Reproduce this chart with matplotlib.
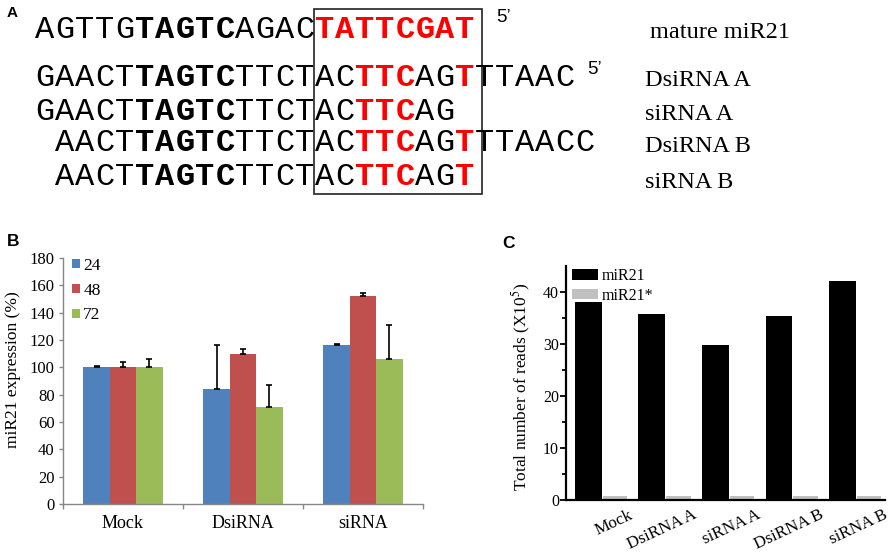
import numpy as np
import matplotlib
matplotlib.use("Agg")
import matplotlib.pyplot as plt
from matplotlib.patches import Rectangle

plt.rcParams['font.family'] = 'Liberation Serif'
plt.rcParams['mathtext.fontset'] = 'stix'

# panel A: sequences, n = normal, b = bold, r = red bold
seqs = ["AGTTGTAGTCAGACTATTCGAT",
        "GAACTTAGTCTTCTACTTCAGTTTAAC",
        "GAACTTAGTCTTCTACTTCAG",
        "AACTTAGTCTTCTACTTCAGTTTAACC",
        "AACTTAGTCTTCTACTTCAGT"]
masks = ["nnnnnbbbbbnnnnrrrrrrrr",
         "nnnnnbbbbbnnnnnnrrrnnrnnnnn",
         "nnnnnbbbbbnnnnnnrrrnn",
         "nnnnbbbbbnnnnnnrrrnnrnnnnnn",
         "nnnnbbbbbnnnnnnrrrnnr"]
seq_names = ["mature miR21", "DsiRNA A", "siRNA A", "DsiRNA B", "siRNA B"]

# panel B
groups = ['Mock', 'DsiRNA', 'siRNA']
hours = ['24', '48', '72']
expr_24 = [100, 84, 116]
expr_48 = [100, 110, 152]
expr_72 = [100, 71, 106]
err_24 = [0.8, 32.6, 1.0]
err_48 = [3.7, 3.7, 2.1]
err_72 = [6.3, 16.0, 25.0]

# panel C
samples = ['Mock', 'DsiRNA A', 'siRNA A', 'DsiRNA B', 'siRNA B']
reads_mir21 = [38.1, 35.8, 29.8, 35.4, 42.1]
reads_star = [0.7, 0.7, 0.7, 0.7, 0.7]

W, H = 892, 552
fig = plt.figure(figsize=(W / 100, H / 100), dpi=100)


def axes_px(l, t, r, b):
    return fig.add_axes([l / W, 1 - b / H, (r - l) / W, (b - t) / H])


# overlay in pixel coords for panel A and letters
ax0 = fig.add_axes([0, 0, 1, 1])
ax0.set_xlim(0, W)
ax0.set_ylim(H, 0)
ax0.axis('off')

row_x = [35, 35, 35, 55, 55]
row_base = [38, 86, 120, 151, 185]
pitch = 20
for seq, mask, x0, yb in zip(seqs, masks, row_x, row_base):
    for i, (ch, st) in enumerate(zip(seq, mask)):
        ax0.text(x0 + (i + 0.5) * pitch, yb, ch, ha='center', va='baseline',
                 family='Liberation Mono', fontsize=23,
                 weight='bold' if st != 'n' else 'normal',
                 color='#FF0000' if st == 'r' else 'black')
ax0.add_patch(Rectangle((314, 9), 168, 185, fill=False, lw=1.2, ec='#222222'))
ax0.text(496, 18, "5\u2019", family='Liberation Sans', fontsize=13.5, va='center')
ax0.text(587, 69, "5\u2019", family='Liberation Sans', fontsize=13.5, va='center')

name_x = [650, 645, 645, 645, 645]
name_y = [32, 80, 115, 147, 182]
for name, nx, ny in zip(seq_names, name_x, name_y):
    ax0.text(nx, ny, name, fontsize=17.5, va='center')

ax0.text(7, 13, 'A', family='Liberation Sans', weight='bold', fontsize=11, va='center')
ax0.text(7, 241, 'B', family='Liberation Sans', weight='bold', fontsize=12.5, va='center')
ax0.text(502, 244, 'C', family='Liberation Sans', weight='bold', fontsize=12.5, va='center')

# panel B
axB = axes_px(63, 258, 423, 504)
axB.set_facecolor('none')
w = 0.22
cols = ['#4F81BD', '#C0504D', '#9BBB59']
xs = np.arange(len(groups))
for k, (vals, errs, col, lab) in enumerate(zip([expr_24, expr_48, expr_72],
                                               [err_24, err_48, err_72], cols, hours)):
    xk = xs + (k - 1) * w
    axB.bar(xk, vals, w, color=col, label=lab, zorder=2)
    axB.errorbar(xk, vals, yerr=[np.zeros(len(errs)), errs], fmt='none', ecolor='black',
                 elinewidth=1.2, capsize=2.5, capthick=1.2, zorder=3)
axB.set_xlim(-0.5, 2.5)
axB.set_ylim(0, 180)
axB.set_yticks(range(0, 181, 20))
axB.set_xticks([-0.5, 0.5, 1.5, 2.5])
axB.set_xticklabels([])
axB.set_xticks(xs, minor=True)
axB.set_xticklabels(groups, minor=True)
axB.tick_params(axis='x', which='minor', length=0, pad=8, labelsize=13)
axB.tick_params(axis='x', which='major', length=3.5, width=1, color='#868686')
axB.tick_params(axis='y', length=3, width=1, color='#868686', labelsize=12, pad=3)
for s in ['top', 'right']:
    axB.spines[s].set_visible(False)
for s in ['left', 'bottom']:
    axB.spines[s].set_color('#868686')
    axB.spines[s].set_linewidth(1)
axB.set_ylabel('miR21 expression (%)', fontsize=12.5)
axB.yaxis.set_label_coords(-0.118, 0.545)
axB.legend(loc='upper left', bbox_to_anchor=(0.025, 1.0), frameon=False,
           handlelength=0.45, handleheight=0.45, handletextpad=0.2,
           labelspacing=0.5, fontsize=12.5, borderaxespad=0, borderpad=0)

# panel C
axC = axes_px(566, 266, 885, 500)
axC.set_facecolor('none')
xc = np.arange(len(samples))
axC.bar(xc - 0.21, reads_mir21, 0.42, color='black', label='miR21')
axC.bar(xc + 0.21, reads_star, 0.38, color='#C0C0C0', label='miR21*')
axC.set_xlim(-0.56, 4.46)
axC.set_ylim(0, 45)
axC.set_yticks(range(0, 41, 10))
axC.set_yticks([5, 15, 25, 35], minor=True)
axC.tick_params(axis='y', which='major', length=4, width=1.3, labelsize=11.5, pad=1)
axC.tick_params(axis='y', which='minor', length=3, width=1.3)
axC.set_xticks(xc + 0.43)
axC.set_xticklabels(samples, rotation=25, ha='right', rotation_mode='anchor', fontsize=12.3)
axC.tick_params(axis='x', length=0, pad=5)
for s in ['top', 'right']:
    axC.spines[s].set_visible(False)
for s in ['left', 'bottom']:
    axC.spines[s].set_linewidth(1.6)
axC.set_ylabel('Total number of reads (X10$^{5}$)', fontsize=12.5)
axC.yaxis.set_label_coords(-0.103, 0.483)
axC.legend(loc='upper left', bbox_to_anchor=(0.019, 0.99), frameon=False,
           handlelength=1.63, handleheight=0.65, handletextpad=0.2,
           labelspacing=0.2, fontsize=11.5, borderaxespad=0, borderpad=0)

fig.savefig('out.png', dpi=100)
